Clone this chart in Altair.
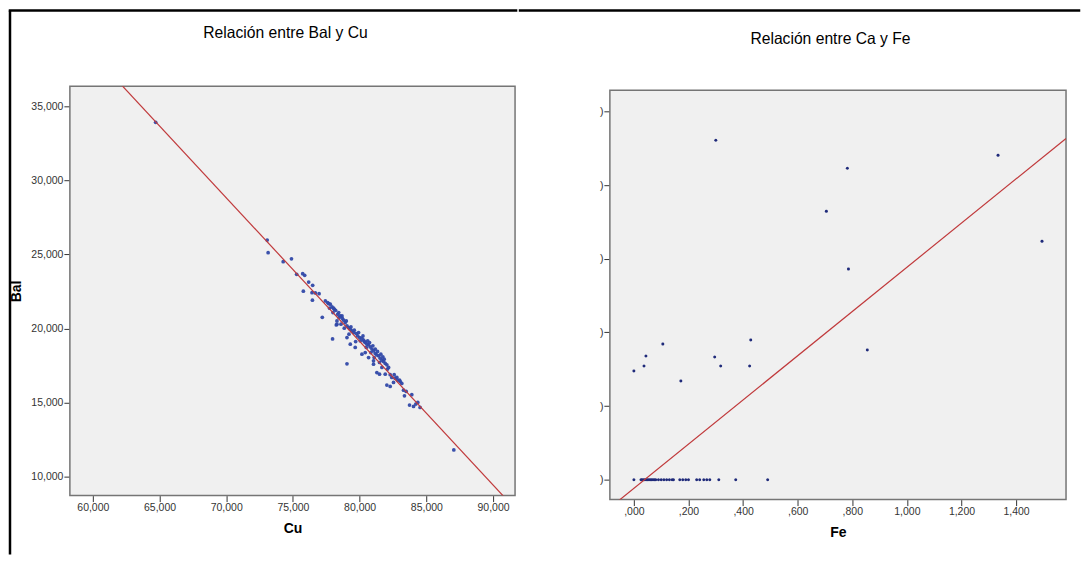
import altair as alt
import pandas as pd

# ---------------- data ----------------
cu = [64.71, 73.07, 73.14, 74.27, 74.89, 75.28, 75.73, 75.88, 76.18, 76.48,
      75.78, 76.43, 76.68, 76.96, 76.46, 77.20, 77.97, 79.05, 87.06,
      77.43, 77.60, 77.80, 77.75, 77.93, 78.10, 78.20, 78.00, 78.35, 78.45,
      78.55, 78.70, 78.80, 78.30, 78.25, 78.60, 78.92, 79.05, 79.17, 78.85,
      79.30, 79.42, 79.55, 79.20, 79.75, 79.85, 80.00, 80.17, 80.30, 80.05,
      79.70, 80.42, 80.55, 80.67, 80.50, 80.79, 80.92, 81.04, 80.84, 80.42,
      81.17, 81.29, 81.42, 81.09, 81.54, 81.67, 81.79, 81.49, 81.92, 82.04,
      81.04, 81.67, 82.09, 81.29, 81.49, 81.92, 82.29, 82.41, 82.66, 82.84,
      82.54, 83.04, 83.16, 82.04, 82.29, 83.29, 83.49, 83.36, 83.91, 83.74,
      84.04, 84.21, 84.36, 84.53,
      79.30, 79.05, 79.67, 80.17, 80.67, 81.04, 78.30, 77.68, 78.05, 78.43,
      78.68, 79.00, 79.35, 79.60, 79.92, 80.25, 80.35, 80.60, 80.74, 80.99,
      81.17, 81.34, 81.59, 81.74, 81.84, 82.17, 82.59, 82.79, 82.99]
bal = [33.92, 25.97, 25.12, 24.51, 24.71, 23.66, 23.70, 23.59, 23.14, 22.92,
       22.52, 22.42, 22.40, 22.35, 21.91, 20.76, 19.30, 17.62, 11.80,
       21.86, 21.75, 21.64, 21.37, 21.46, 21.30, 21.23, 21.08, 20.96, 20.74,
       20.85, 20.69, 20.56, 20.51, 20.24, 20.29, 20.40, 20.18, 20.07, 20.02,
       19.95, 19.84, 19.73, 19.62, 19.66, 19.50, 19.39, 19.35, 19.21, 19.17,
       19.12, 19.05, 18.94, 18.90, 18.72, 18.76, 18.61, 18.49, 18.38, 18.38,
       18.31, 18.22, 18.16, 18.04, 18.00, 17.86, 17.77, 17.71, 17.64, 17.55,
       17.59, 17.37, 17.26, 17.03, 16.92, 16.92, 16.88, 16.70, 16.65, 16.52,
       16.36, 16.43, 16.29, 16.18, 16.09, 15.84, 15.75, 15.46, 15.53, 14.83,
       14.74, 14.90, 15.01, 14.67,
       18.94, 19.39, 18.72, 18.27, 18.04, 17.82, 20.29, 21.68, 21.37, 21.08,
       20.85, 20.51, 20.11, 19.89, 19.73, 19.50, 19.12, 19.17, 19.05, 18.83,
       18.61, 18.45, 18.27, 18.09, 17.93, 17.37, 16.88, 16.70, 16.52]

fe = [0.000, 0.026, 0.030, 0.035, 0.040, 0.045, 0.050, 0.055, 0.060, 0.065,
      0.070, 0.075, 0.080, 0.090, 0.100, 0.110, 0.120, 0.130, 0.140, 0.145,
      0.168, 0.179, 0.190, 0.200, 0.230, 0.241, 0.256, 0.267, 0.278, 0.311,
      0.373, 0.490,
      0.000, 0.037, 0.044, 0.106, 0.172, 0.296, 0.318, 0.424, 0.428, 0.300,
      0.782, 0.705, 0.786, 1.334, 1.495, 0.855]
ca = [0, 0, 0, 0, 0, 0, 0, 0, 0, 0,
      0, 0, 0, 0, 0, 0, 0, 0, 0, 0,
      0, 0, 0, 0, 0, 0, 0, 0, 0, 0,
      0, 0,
      1.477, 1.545, 1.680, 1.843, 1.341, 1.667, 1.545, 1.545, 1.897, 4.607,
      4.228, 3.645, 2.859, 4.404, 3.238, 1.762]

fit_left = {"intercept": 96.702, "slope": -0.9696}
fit_right = {"intercept": -0.117, "slope": 3.0}

cu_domain = [58.28, 91.65]
bal_domain = [8.72, 36.35]
fe_domain = [-0.088, 1.583]
ca_domain = [-0.27, 5.339]   # top of the panel (frame starts 4px lower)

cu_ticks = [60, 65, 70, 75, 80, 85, 90]
bal_ticks = [10, 15, 20, 25, 30, 35]
fe_ticks = [0, 0.2, 0.4, 0.6, 0.8, 1.0, 1.2, 1.4]
ca_ticks = [0, 1, 2, 3, 4, 5]

title_left = "Relación entre Bal y Cu"
title_right = "Relación entre Ca y Fe"

# ---------------- tables ----------------
df_left = pd.DataFrame({"Cu": cu, "Bal": bal})
df_right = pd.DataFrame({"Fe": fe, "Ca": ca})
line_left = pd.DataFrame({"Cu": cu_domain,
                          "Bal": [fit_left["intercept"] + fit_left["slope"] * v for v in cu_domain]})
line_right = pd.DataFrame({"Fe": fe_domain,
                           "Ca": [fit_right["intercept"] + fit_right["slope"] * v for v in fe_domain]})
one = pd.DataFrame({"k": [0]})

FONT = "Liberation Sans"
W1, W2 = 446, 457
H1, H2 = 410, 414
LINE_COL = "#c0393b"
FRAME_COL = "#757575"
BG = "#f0f0f0"

comma_fmt = "replace(format(datum.value, '.3f'), '.', ',')"
fe_fmt = ("datum.value < 0.999 ? replace(format(datum.value, '.3f'), '0.', ',') "
          ": replace(format(datum.value, '.3f'), '.', ',')")


def xaxis(title, values, expr):
    return alt.Axis(title=title, values=values, labelExpr=expr, tickSize=6,
                    labelPadding=1, titlePadding=8)


def yaxis(title, values, expr, title_pad=7):
    return alt.Axis(title=title, values=values, labelExpr=expr, tickSize=6,
                    labelPadding=1, titlePadding=title_pad)


def frame(w, top, h):
    return alt.Chart(one).mark_rect(fill=BG, stroke=FRAME_COL, strokeWidth=1.5).encode(
        x=alt.value(0), x2=alt.value(w), y=alt.value(top), y2=alt.value(h))


# ---------------- left panel ----------------
lx = alt.X("Cu:Q", scale=alt.Scale(domain=cu_domain, nice=False, zero=False),
           axis=xaxis("Cu", cu_ticks, comma_fmt))
ly = alt.Y("Bal:Q", scale=alt.Scale(domain=bal_domain, nice=False, zero=False),
           axis=yaxis("Bal", bal_ticks, comma_fmt))

pts_l = alt.Chart(df_left).mark_circle(size=14, color="#3048a8", opacity=0.95).encode(x=lx, y=ly)
fit_l = alt.Chart(line_left).mark_line(color=LINE_COL, strokeWidth=1.2, clip=True).encode(
    x="Cu:Q", y="Bal:Q")
ttl_l = alt.Chart(pd.DataFrame({"t": [title_left]})).mark_text(
    font=FONT, fontSize=15.7, align="center", baseline="alphabetic", color="#000"
).encode(text="t:N", x=alt.value(216), y=alt.value(-48))
bord_v = alt.Chart(one).mark_rule(color="#000", strokeWidth=2.5).encode(
    x=alt.value(-60), y=alt.value(-76), y2=alt.value(469))
bord_h1 = alt.Chart(one).mark_rule(color="#000", strokeWidth=2.5, strokeCap="square").encode(
    x=alt.value(-60), x2=alt.value(W1 + 1), y=alt.value(-76))

left = alt.layer(frame(W1, 0, H1), pts_l, fit_l, bord_v, bord_h1, ttl_l).properties(
    width=W1, height=H1)

# ---------------- right panel ----------------
rx = alt.X("Fe:Q", scale=alt.Scale(domain=fe_domain, nice=False, zero=False),
           axis=xaxis("Fe", fe_ticks, fe_fmt))
ry = alt.Y("Ca:Q", scale=alt.Scale(domain=ca_domain, nice=False, zero=False),
           axis=yaxis(None, ca_ticks, "')'"))

pts_r = alt.Chart(df_right).mark_circle(size=9, color="#1f2a7a", opacity=1).encode(x=rx, y=ry)
fit_r = alt.Chart(line_right).mark_line(color=LINE_COL, strokeWidth=1.2, clip=True).encode(
    x="Fe:Q", y="Ca:Q")
ttl_r = alt.Chart(pd.DataFrame({"t": [title_right]})).mark_text(
    font=FONT, fontSize=15.7, align="center", baseline="alphabetic", color="#000"
).encode(text="t:N", x=alt.value(221), y=alt.value(-42))
bord_h2 = alt.Chart(one).mark_rule(color="#000", strokeWidth=2.5, strokeCap="square").encode(
    x=alt.value(-90), x2=alt.value(470), y=alt.value(-76))

right = alt.layer(frame(W2, 4, H2), pts_r, fit_r, bord_h2, ttl_r).properties(
    width=W2, height=H2)

chart = alt.hconcat(left, right, spacing=0).properties(
    padding=0, background="white"
).configure_view(
    fill=None, stroke=None
).configure_axis(
    grid=False, domain=False, tickColor="#333", tickWidth=1,
    labelFont=FONT, labelFontSize=10.5, labelColor="#333",
    titleFont=FONT, titleFontSize=14, titleFontWeight="bold", titleColor="#000"
)

chart.save("out.html", embed_options={"renderer": "svg", "actions": False})
